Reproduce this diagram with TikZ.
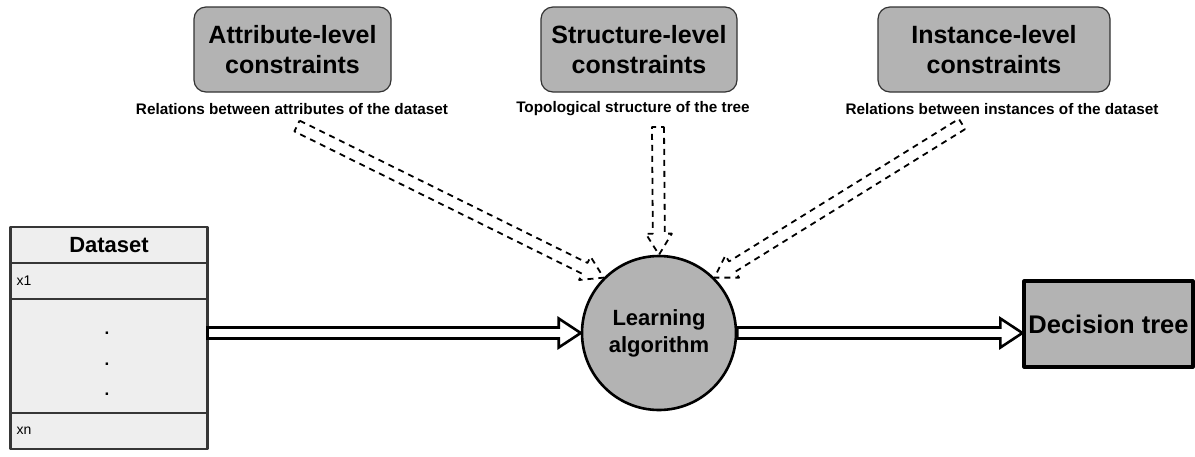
\documentclass[tikz,border=0pt]{standalone}
\usepackage{fontspec}
\setmainfont{Liberation Sans}
\usetikzlibrary{calc}

\definecolor{boxgray}{HTML}{B3B3B3}
\definecolor{rowgray}{HTML}{EEEEEE}
\definecolor{rowline}{HTML}{363636}

% hollow block arrow: #1 shaft half-width, #2 head half-width, #3 head length
\tikzset{
  blockarrow/.style n args={3}{to path={
      ($(\tikztostart)!#1!90:(\tikztotarget)$)
      -- ($(\tikztotarget)!#3!(\tikztostart)!#1!90:(\tikztotarget)$)
      -- ($(\tikztotarget)!#3!(\tikztostart)!#2!90:(\tikztotarget)$)
      -- (\tikztotarget)
      -- ($(\tikztotarget)!#3!(\tikztostart)!#2!-90:(\tikztotarget)$)
      -- ($(\tikztotarget)!#3!(\tikztostart)!#1!-90:(\tikztotarget)$)
      -- ($(\tikztostart)!#1!-90:(\tikztotarget)$)
      -- cycle}},
  solidarrow/.style={draw=black, fill=white, line width=2.6pt, line join=miter,
    blockarrow={5.5pt}{14.5pt}{22pt}},
  dasharrow/.style={draw=black, line width=1.8pt, dash pattern=on 6pt off 5pt,
    blockarrow={6pt}{13pt}{21pt}}
}

\begin{document}
\begin{tikzpicture}[x=1pt, y=-1pt, line join=round,
    cbox/.style={draw=black!80, line width=1.2pt, fill=boxgray, rounded corners=12pt,
      minimum height=85pt, inner sep=0pt, align=center,
      font=\fontsize{25}{30}\selectfont\bfseries},
    cdesc/.style={inner sep=0pt, font=\fontsize{15.3}{18}\selectfont\bfseries},
    tabrow/.style={draw=rowline, line width=2.2pt, fill=rowgray, minimum width=197pt,
      inner sep=0pt, outer sep=0pt}]
  \useasboundingbox (0,0) rectangle (1195,456);

  % constraint boxes and their captions
  \node[cbox, minimum width=197pt] (attr) at (292.5,49.5) {Attribute-level\\constraints};
  \node[cbox, minimum width=196pt] (struct) at (639,49.5) {Structure-level\\constraints};
  \node[cbox, minimum width=232pt] (inst) at (994,49.5) {Instance-level\\constraints};
  \node[cdesc] (attrdesc) at (292,109) {Relations between attributes of the dataset};
  \node[cdesc] (structdesc) at (633,109) {Topological structure of the tree};
  \node[cdesc] (instdesc) at (1002,109) {Relations between instances of the dataset};

  % dataset table
  \node[tabrow, minimum height=36pt, font=\fontsize{22}{25}\selectfont\bfseries] (head) at (109,245) {Dataset};
  \node[tabrow, minimum height=36pt, text width=185pt, align=left, font=\fontsize{14}{16}\selectfont] (xfirst) at (109,281) {x1};
  \node[tabrow, minimum height=114pt] (dotsrow) at (109,356) {};
  \node[tabrow, minimum height=36pt, text width=185pt, align=left, font=\fontsize{14}{16}\selectfont] (xlast) at (109,431) {xn};
  \foreach \y in {333,364,394}
    \node[inner sep=0pt, font=\fontsize{17}{18}\selectfont\bfseries] (dot\y) at (107,\y) {.};

  % learner and result
  \node[circle, draw, line width=2.6pt, fill=boxgray, minimum size=154pt, inner sep=0pt,
    align=center, font=\fontsize{22}{27}\selectfont\bfseries] (alg) at (659,333) {Learning\\algorithm};
  \node[draw, line width=3.2pt, fill=boxgray, minimum width=169pt, minimum height=86pt,
    inner sep=0pt, font=\fontsize{25.5}{30}\selectfont\bfseries] (tree) at (1108.5,324) {Decision tree};

  % constraint arrows
  \coordinate (attrtail) at (297,126);
  \coordinate (structtail) at (658,127);
  \coordinate (insttail) at (962,124);
  \draw[dasharrow] (attrtail) to (alg.135);
  \draw[dasharrow] (structtail) to (alg.north);
  \draw[dasharrow] (insttail) to (alg.45);

  % data flow
  \draw[solidarrow] (alg.west -| dotsrow.east) to (alg.west);
  \draw[solidarrow] (alg.east) to (alg.east -| tree.west);
\end{tikzpicture}
\end{document}
